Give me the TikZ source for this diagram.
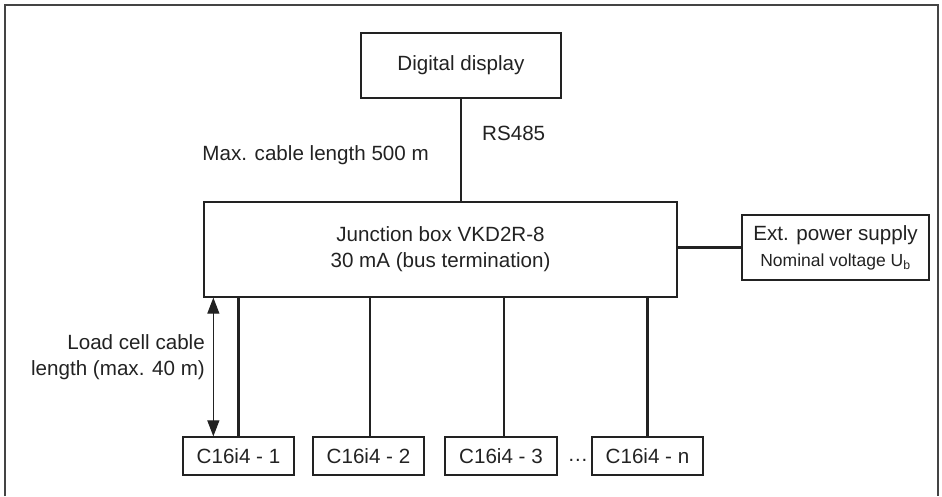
\documentclass[tikz,border=0pt]{standalone}
\usepackage{fontspec}
\setmainfont{Liberation Sans}
\usetikzlibrary{arrows.meta,calc}
\definecolor{ink}{HTML}{222222}
\definecolor{framec}{HTML}{444444}
\begin{document}
\begin{tikzpicture}[x=1pt,y=-1pt,
  every node/.style={text=ink},
  boxnode/.style={draw=ink,line width=1.3pt,inner sep=0pt,align=center,font=\fontsize{20.6}{26}\selectfont},
  txt/.style={inner sep=0pt,font=\fontsize{20.6}{26}\selectfont},
  wire/.style={draw=ink,line width=2.4pt},
  dimarrow/.style={draw=ink,line width=1.2pt,{Triangle[length=16pt,width=12pt]}-{Triangle[length=16pt,width=12pt]}}
]
\useasboundingbox (0,0) rectangle (942,496);
\draw[framec,line width=2pt] (5,496) -- (5,5) -- (938,5) -- (938,496);

\node[boxnode,minimum width=200pt,minimum height=65pt] (disp) at (461,65.5) {Digital display};
\node[boxnode,minimum width=473pt,minimum height=95pt] (jb) at (440.5,249.5) {Junction box VKD2R-8\\30 mA (bus termination)};
\node[boxnode,minimum width=187pt,minimum height=65pt] (ps) at (835.5,247.5) {Ext. power supply\\{\fontsize{17.5}{22}\selectfont Nominal voltage U\textsubscript{b}}};

\node[boxnode,minimum width=111pt,minimum height=38pt] (c1) at (238.5,456) {C16i4 - 1};
\node[boxnode,minimum width=111pt,minimum height=38pt] (c2) at (368.5,456) {C16i4 - 2};
\node[boxnode,minimum width=112pt,minimum height=38pt] (c3) at (501,456) {C16i4 - 3};
\node[boxnode,minimum width=111pt,minimum height=38pt] (cn) at (647.5,456) {C16i4 - n};

\node[txt,anchor=west] (rs) at (482,133) {RS485};
\node[txt,anchor=east] (maxlen) at (429,155) {Max. cable length 500 m};
\node[txt,anchor=east,align=right] (lclabel) at (205,357) {Load cell cable\\length (max. 40 m)};
\node[txt] (dots) at (578,460) {\dots};

\draw[wire] (disp.south) -- (disp.south |- jb.north);
\draw[wire] (ps.west) -- (ps.west -| jb.east);
\draw[wire] (c1.north) -- (c1.north |- jb.south);
\draw[wire] ([xshift=1.5pt]c2.north) -- ([xshift=1.5pt]c2.north |- jb.south);
\draw[wire] ([xshift=3pt]c3.north) -- ([xshift=3pt]c3.north |- jb.south);
\draw[wire] (cn.north) -- (cn.north |- jb.south);

\coordinate (atop) at ([xshift=10pt]jb.south west);
\coordinate (abot) at (atop |- c1.north);
\draw[dimarrow] (atop) -- (abot);
\end{tikzpicture}
\end{document}
